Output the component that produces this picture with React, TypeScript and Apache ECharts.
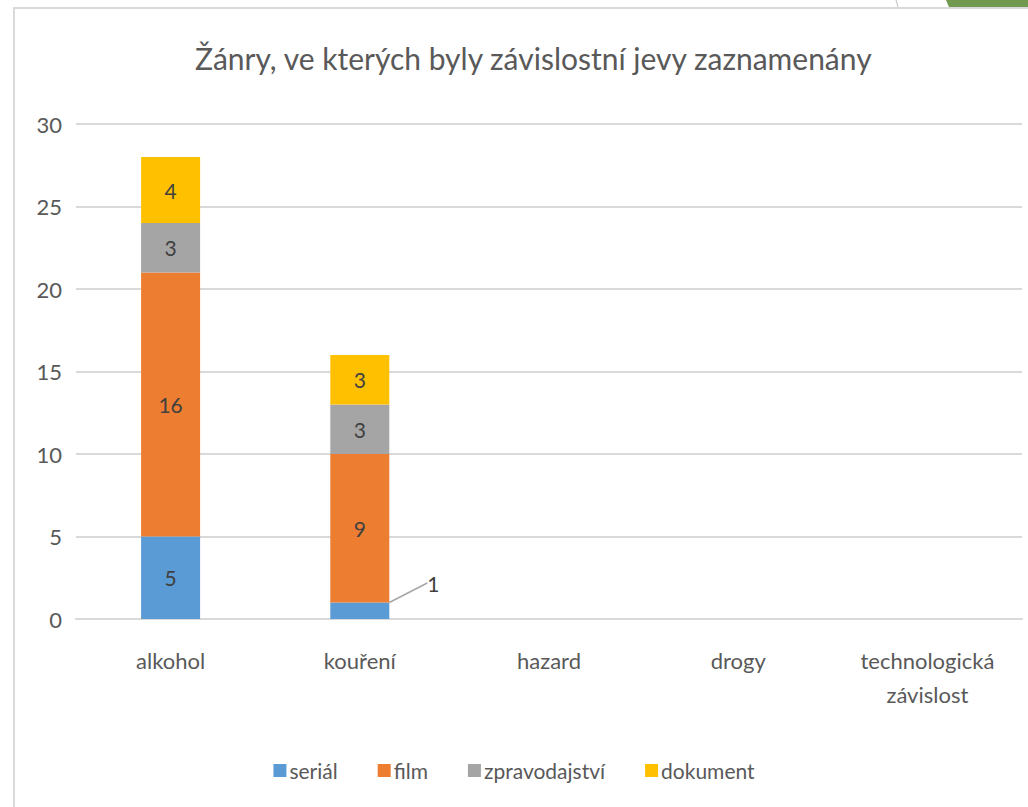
import React, { useEffect, useRef } from "react";
import * as echarts from "echarts";

const title = "Žánry, ve kterých byly závislostní jevy zaznamenány";
const categories = ["alkohol", "kouření", "hazard", "drogy", "technologická\nzávislost"];
const serial = [5, 1, 0, 0, 0];
const film = [16, 9, 0, 0, 0];
const zpravodajstvi = [3, 3, 0, 0, 0];
const dokument = [4, 3, 0, 0, 0];
const seriesNames = ["seriál", "film", "zpravodajství", "dokument"];
const colors = ["#5B9BD5", "#ED7D31", "#A5A5A5", "#FFC000"];

const FONT = "Lato, 'Open Sans', sans-serif";

export default function App() {
  const ref = useRef<HTMLDivElement>(null);
  useEffect(() => {
    if (!ref.current) return;
    const chart = echarts.init(ref.current, null, { renderer: "svg" });
    const datasets = [serial, film, zpravodajstvi, dokument];
    const series = datasets.map((d, i) => ({
      name: seriesNames[i],
      type: "bar",
      stack: "total",
      barWidth: 59,
      data: d,
      itemStyle: { color: colors[i] },
      label: {
        show: true,
        position: "inside",
        color: "#404040",
        fontSize: 21,
        fontFamily: FONT,
        formatter: (p: any) => (p.value ? String(p.value) : ""),
      },
      ...(i === 0
        ? {
            labelLayout: (p: any) =>
              p.dataIndex === 1 ? { x: p.rect.x + p.rect.width + 38, y: p.rect.y - 30 } : {},
            labelLine: { show: true, lineStyle: { color: "#A6A6A6", width: 1.5 } },
          }
        : {}),
    }));
    chart.setOption({
      animation: false,
      title: {
        text: title,
        left: 190,
        top: 38,
        textStyle: { fontFamily: FONT, fontSize: 30, fontWeight: "normal", color: "#595959" },
      },
      grid: { left: 76, right: 6, top: 124, bottom: 807 - 619, containLabel: false },
      legend: {
        bottom: 21,
        left: "center",
        itemWidth: 13,
        itemHeight: 13,
        itemGap: 40,
        icon: "rect",
        textStyle: { fontFamily: FONT, fontSize: 21, color: "#595959", padding: [0, 0, 0, -2] },
        data: seriesNames,
      },
      xAxis: {
        type: "category",
        data: categories,
        axisLine: { lineStyle: { color: "#D9D9D9", width: 2 } },
        axisTick: { show: false },
        axisLabel: { fontFamily: FONT, fontSize: 22, color: "#595959", margin: 24, lineHeight: 34 },
      },
      yAxis: {
        type: "value",
        min: 0,
        max: 30,
        interval: 5,
        axisLine: { show: false },
        axisTick: { show: false },
        splitLine: { lineStyle: { color: "#D9D9D9", width: 2 } },
        axisLabel: { fontFamily: FONT, fontSize: 22, color: "#595959", margin: 14 },
      },
      graphic: [
        {
          type: "rect",
          shape: { x: 14, y: 8, width: 1100, height: 900 },
          style: { fill: "none", stroke: "#D9D9D9", lineWidth: 2 },
          silent: true,
        },
        {
          type: "line",
          shape: { x1: 896, y1: 0, x2: 898, y2: 7 },
          style: { stroke: "#BFBFBF", lineWidth: 1 },
          silent: true,
        },
        {
          type: "polygon",
          shape: { points: [[946, 0], [1028, 0], [1028, 7], [949, 7]] },
          style: { fill: "#70984F" },
          silent: true,
        },
      ],
      series,
    });
    return () => chart.dispose();
  }, []);
  return (
    <div
      ref={ref}
      style={{ position: "fixed", left: 0, top: 0, width: 1028, height: 807, background: "#fff" }}
    />
  );
}
